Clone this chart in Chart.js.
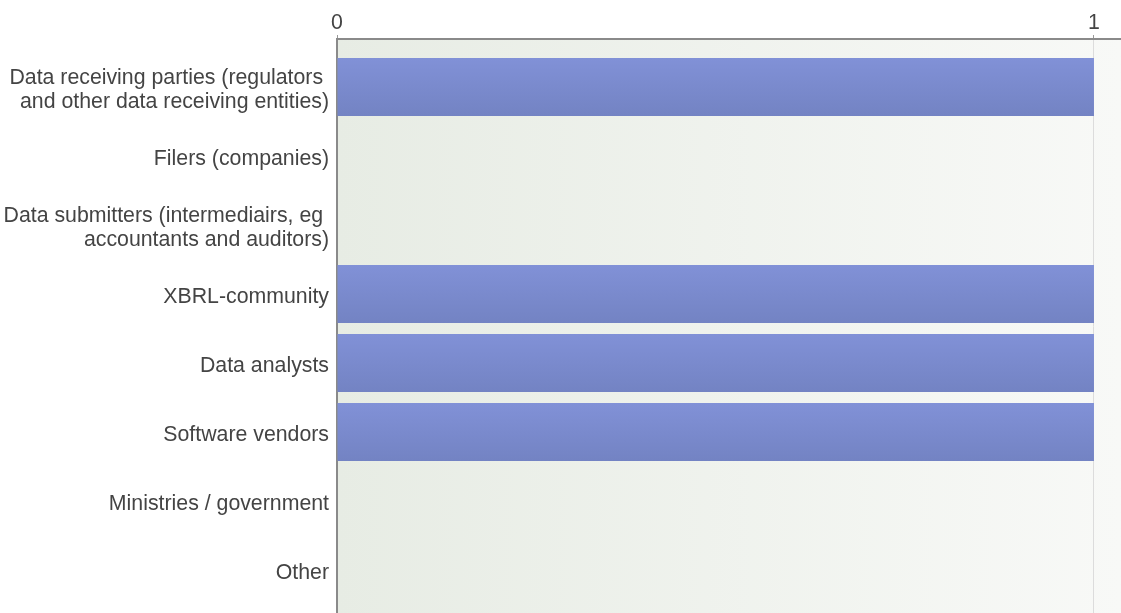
<!DOCTYPE html>
<html>
<head>
<meta charset="utf-8">
<script src="https://cdn.jsdelivr.net/npm/chart.js@4"></script>
<style>
  html, body { margin: 0; padding: 0; background: #fff; }
  #wrap { width: 1121px; height: 613px; }
</style>
</head>
<body>
<div id="wrap"><canvas id="stakeholderChart" width="1121" height="613"></canvas></div>
<script>
// categories (multi-line labels as arrays)
const categories = [
    ['Data receiving parties (regulators ', 'and other data receiving entities)'],
    'Filers (companies)',
    ['Data submitters (intermediairs, eg ', 'accountants and auditors)'],
    'XBRL-community',
    'Data analysts',
    'Software vendors',
    'Ministries / government',
    'Other'
];
const counts = [1, 0, 0, 1, 1, 1, 0, 0];
const xTicks = [0, 1];

const font = { family: '"Liberation Sans", Arial, sans-serif', size: 21.3, lineHeight: 1.15 };

// plot background: soft horizontal gradient
const plotBackground = {
    id: 'plotBackground',
    beforeDraw(chart) {
        const { ctx, chartArea: a } = chart;
        const g = ctx.createLinearGradient(a.left, 0, a.right, 0);
        g.addColorStop(0, '#e7ece4');
        g.addColorStop(1, '#f8f9f7');
        ctx.save();
        ctx.fillStyle = g;
        ctx.fillRect(a.left, a.top, a.right - a.left, a.bottom - a.top);
        ctx.restore();
    }
};

// vertical gradient for each bar
function barFill(context) {
    const chart = context.chart;
    const y = chart.scales.y;
    const c = y ? y.getPixelForValue(context.dataIndex) : NaN;
    if (!isFinite(c)) return '#7a8bd0';
    const g = chart.ctx.createLinearGradient(0, c - 29, 0, c + 29);
    g.addColorStop(0, '#8191d7');
    g.addColorStop(1, '#7383c3');
    return g;
}

const ctx = document.getElementById('stakeholderChart').getContext('2d');
const stakeholderChart = new Chart(ctx, {
    type: 'bar',
    data: {
        datasets: [{
            data: counts.map((v, i) => ({ x: v, y: i })),
            backgroundColor: barFill,
            borderWidth: 0,
            barPercentage: 0.84,
            categoryPercentage: 1
        }]
    },
    options: {
        indexAxis: 'y',
        responsive: false,
        animation: false,
        layout: { padding: 0 },
        plugins: {
            legend: { display: false },
            tooltip: { enabled: false }
        },
        scales: {
            x: {
                type: 'linear',
                position: 'top',
                min: 0,
                max: 1.0357,
                afterBuildTicks: (scale) => { scale.ticks = xTicks.map(v => ({ value: v })); },
                afterFit: (scale) => {
                    scale.height = 39;
                    scale.paddingLeft = 0;
                    scale.paddingRight = 0;
                },
                grid: {
                    color: (c) => c.tick && c.tick.value === 0 ? 'rgba(0,0,0,0)' : '#dcdcdc',
                    tickColor: '#999',
                    tickLength: 4,
                    lineWidth: 1
                },
                border: { color: '#8a8a8a', width: 2 },
                ticks: { font: font, color: '#444', padding: 0 }
            },
            y: {
                type: 'linear',
                reverse: true,
                offset: false,
                min: -0.6957,
                max: 7.623,
                afterBuildTicks: (scale) => { scale.ticks = categories.map((_, i) => ({ value: i })); },
                afterFit: (scale) => {
                    scale.width = 337;
                    scale.paddingTop = 0;
                    scale.paddingBottom = 0;
                },
                grid: { display: false, drawTicks: false, offset: false },
                border: { color: '#8a8a8a', width: 2 },
                ticks: {
                    font: font,
                    color: '#444',
                    padding: 8,
                    labelOffset: 3,
                    callback: (v) => categories[v]
                }
            }
        }
    },
    plugins: [plotBackground]
});
</script>
</body>
</html>
